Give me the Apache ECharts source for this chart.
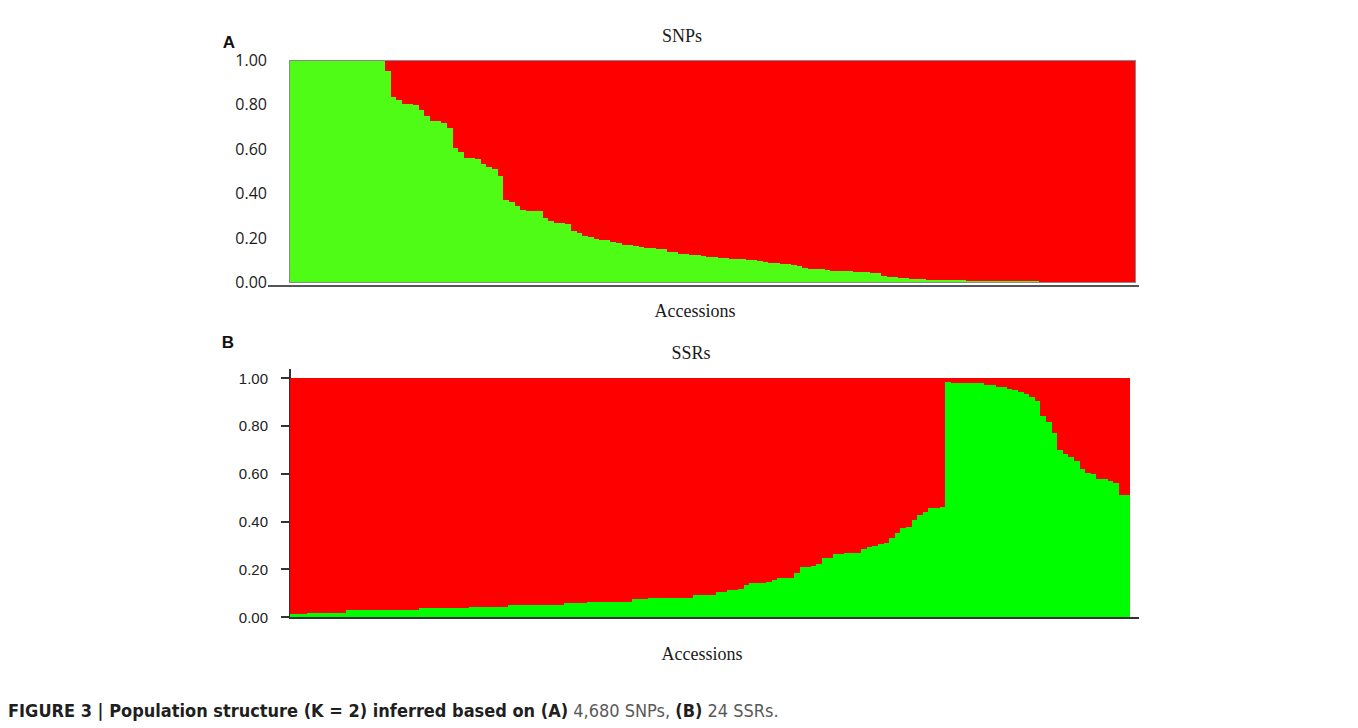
<!DOCTYPE html>
<html>
<head>
<meta charset="utf-8">
<script src="https://cdn.jsdelivr.net/npm/echarts@6/dist/echarts.min.js"></script>
<style>
  html, body { margin: 0; padding: 0; background: #fff; }
  #chart { width: 1358px; height: 728px; }
  /* keep adjacent bar edges snapped to whole pixels so no seams appear */
  #chart svg path, #chart svg rect, #chart svg line { shape-rendering: crispEdges; }
</style>
</head>
<body>
<div id="chart"></div>
<script>
// Accessions, sorted as in the STRUCTURE bar plot (K = 2)
const accessions = [];
for (let i = 1; i <= 150; i++) accessions.push('Acc' + i);

// Membership coefficient (Q) for cluster 1, SNP data set
const snpCluster1 = [
  1, 1, 1, 1, 1, 1, 1, 1, 1, 1, 1, 1, 1, 1, 1, 1, 1,
  0.950, 0.833, 0.821, 0.800, 0.800, 0.797, 0.775, 0.748, 0.725, 0.725, 0.718, 0.695,
  0.602, 0.587, 0.557, 0.557, 0.554, 0.533, 0.519, 0.509, 0.476, 0.368, 0.359, 0.344,
  0.324, 0.320, 0.320, 0.320, 0.290, 0.276, 0.264, 0.264, 0.262, 0.230,
  0.219, 0.209, 0.201, 0.194, 0.191, 0.188, 0.182, 0.177, 0.168, 0.165,
  0.161, 0.158, 0.155, 0.152, 0.149, 0.147, 0.137, 0.134, 0.128, 0.125,
  0.123, 0.120, 0.117, 0.112, 0.111, 0.109, 0.108, 0.105, 0.103, 0.102,
  0.100, 0.097, 0.093, 0.088, 0.087, 0.084, 0.082, 0.081, 0.075, 0.072,
  0.063, 0.060, 0.058, 0.057, 0.054, 0.051, 0.050, 0.050, 0.048, 0.047,
  0.045, 0.044, 0.042, 0.039, 0.027, 0.024, 0.022, 0.018, 0.016, 0.014,
  0.013, 0.012, 0.011, 0.010, 0.009, 0.008, 0.008, 0.007, 0.007, 0.006,
  0.006, 0.005, 0.005, 0.005, 0.004, 0.004, 0.004, 0.003, 0.003, 0.003,
  0.003, 0.003, 0.002, 0.002, 0.002, 0.002, 0.002, 0.001, 0.001, 0.001,
  0.001, 0.001, 0.001, 0.001, 0.001, 0.001, 0.001, 0.001, 0.001
];

// Membership coefficient (Q) for cluster 1, SSR data set
const ssrCluster1 = [
  0.014, 0.014, 0.014,
  0.018, 0.018, 0.018, 0.018, 0.018, 0.018, 0.018,
  0.029, 0.029, 0.029, 0.029, 0.029, 0.029, 0.029, 0.029, 0.029, 0.029, 0.029, 0.029, 0.029,
  0.036, 0.036, 0.036, 0.036, 0.036, 0.036, 0.036, 0.036, 0.036,
  0.040, 0.040, 0.040, 0.040, 0.040, 0.040, 0.040,
  0.050, 0.050, 0.050, 0.050, 0.050, 0.050, 0.050, 0.050, 0.050, 0.050,
  0.057, 0.057, 0.057, 0.057,
  0.061, 0.061, 0.061, 0.061, 0.061, 0.061, 0.061, 0.061,
  0.074, 0.074, 0.074,
  0.079, 0.079, 0.079, 0.079,
  0.081, 0.081, 0.081, 0.081,
  0.093, 0.093, 0.093, 0.093,
  0.103, 0.103, 0.114, 0.114, 0.118, 0.135, 0.142, 0.142, 0.142, 0.148,
  0.156, 0.164, 0.164, 0.164, 0.185, 0.208, 0.208, 0.212, 0.222, 0.247,
  0.247, 0.264, 0.264, 0.268, 0.268, 0.268, 0.286, 0.291, 0.297, 0.307,
  0.311, 0.329, 0.353, 0.372, 0.377, 0.404, 0.425, 0.441, 0.454, 0.456,
  0.462, 0.984, 0.977, 0.977, 0.977, 0.977, 0.977, 0.977, 0.969, 0.969,
  0.964, 0.964, 0.955, 0.948, 0.941, 0.933, 0.920, 0.904, 0.839, 0.814,
  0.770, 0.697, 0.684, 0.669, 0.654, 0.619, 0.604, 0.597, 0.576, 0.576,
  0.569, 0.561, 0.512, 0.512
];

const yTicks = [0, 0.2, 0.4, 0.6, 0.8, 1.0];

const RED = '#fe0000';
const GREEN_SNP = '#4ffc15';
const GREEN_SSR = '#00fe00';

// Cluster 2 is the remainder of each accession's membership
const snpCluster2 = snpCluster1.map(v => +(1 - v).toFixed(3));
const ssrCluster2 = ssrCluster1.map(v => +(1 - v).toFixed(3));

const chart = echarts.init(document.getElementById('chart'), null, { renderer: 'svg' });

function barSeries(name, data, color, idx, stack) {
  return {
    name, type: 'bar', stack, data,
    xAxisIndex: idx, yAxisIndex: idx,
    barCategoryGap: '0%', barGap: '0%',
    itemStyle: { color, borderWidth: 0 },
    emphasis: { disabled: true },
    silent: true
  };
}

function textEl(text, x, y, font, fill, align) {
  return {
    type: 'text', x, y, silent: true,
    style: { text, font, fill: fill || '#1a1a1a', align: align || 'center', verticalAlign: 'middle' }
  };
}

chart.setOption({
  animation: false,
  backgroundColor: '#ffffff',
  grid: [
    { left: 289, top: 60, width: 846, height: 222, show: true, z: 3,
      borderColor: '#8a8a8a', borderWidth: 1, backgroundColor: 'transparent', containLabel: false },
    { left: 290, top: 378, width: 840, height: 239, containLabel: false }
  ],
  xAxis: [
    { type: 'category', gridIndex: 0, data: accessions,
      axisLine: { show: false }, axisTick: { show: false }, axisLabel: { show: false }, splitLine: { show: false } },
    { type: 'category', gridIndex: 1, data: accessions,
      axisLine: { show: false }, axisTick: { show: false }, axisLabel: { show: false }, splitLine: { show: false } }
  ],
  yAxis: [
    { type: 'value', gridIndex: 0, min: yTicks[0], max: yTicks[yTicks.length - 1], interval: 0.2,
      axisLine: { show: false }, axisTick: { show: false }, splitLine: { show: false },
      axisLabel: { margin: 22, formatter: v => v.toFixed(2), color: '#1a1a1a',
        fontFamily: 'Open Sans', fontSize: 16 } },
    { type: 'value', gridIndex: 1, min: yTicks[0], max: yTicks[yTicks.length - 1], interval: 0.2,
      axisLine: { show: true, lineStyle: { color: '#333', width: 2 } },
      axisTick: { show: true, length: 9, lineStyle: { color: '#333', width: 1.5 } },
      splitLine: { show: false },
      axisLabel: { margin: 22, formatter: v => v.toFixed(2), color: '#222',
        fontFamily: 'Liberation Sans', fontSize: 15 } }
  ],
  series: [
    barSeries('Cluster 1', snpCluster1, GREEN_SNP, 0, 'snp'),
    barSeries('Cluster 2', snpCluster2, RED, 0, 'snp'),
    barSeries('Cluster 1', ssrCluster1, GREEN_SSR, 1, 'ssr'),
    barSeries('Cluster 2', ssrCluster2, RED, 1, 'ssr')
  ],
  graphic: [
    // panel A baseline under the plot
    { type: 'line', silent: true, shape: { x1: 268, y1: 286, x2: 1139, y2: 286 },
      style: { stroke: '#555', lineWidth: 2 } },
    // panel B axis extensions
    { type: 'line', silent: true, shape: { x1: 290, y1: 369, x2: 290, y2: 378 },
      style: { stroke: '#333', lineWidth: 2 } },
    { type: 'line', silent: true, shape: { x1: 289, y1: 617.5, x2: 1139, y2: 617.5 },
      style: { stroke: '#333', lineWidth: 2 } },
    // panel letters and titles
    textEl('A', 229, 42, 'bold 17px "Liberation Sans"', '#111'),
    textEl('SNPs', 682, 36, '18px "Liberation Serif"'),
    textEl('Accessions', 695, 311, '18px "Liberation Serif"'),
    textEl('B', 228, 342, 'bold 17px "Liberation Sans"', '#111'),
    textEl('SSRs', 691, 353, '18px "Liberation Serif"'),
    textEl('Accessions', 702, 654, '18px "Liberation Serif"'),
    // caption
    {
      type: 'text', x: 8, y: 710, silent: true,
      style: {
        text: '{b|FIGURE 3 | Population structure (K = 2) inferred based on (A)}{n| 4,680 SNPs, }{b|(B)}{n| 24 SSRs.}',
        verticalAlign: 'middle', align: 'left',
        rich: {
          b: { fontFamily: '"DejaVu Sans Condensed", "Liberation Sans Narrow", sans-serif', fontWeight: 'bold', fontSize: 18, fill: '#1f1f1f' },
          n: { fontFamily: '"DejaVu Sans Condensed", "Liberation Sans Narrow", sans-serif', fontSize: 18, fill: '#5a5a5a' }
        }
      }
    }
  ]
});
</script>
</body>
</html>
